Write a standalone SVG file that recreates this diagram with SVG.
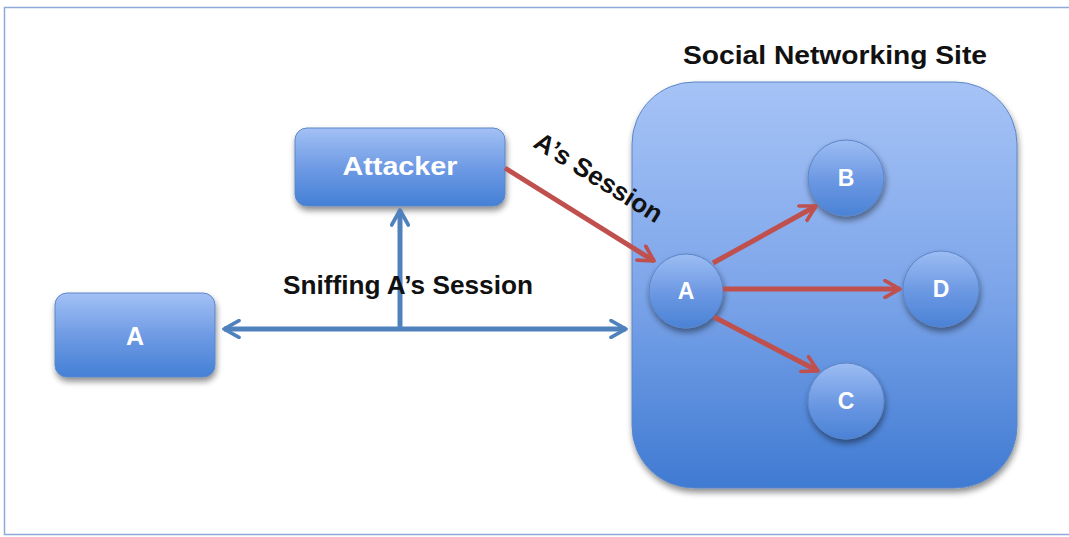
<svg xmlns="http://www.w3.org/2000/svg" width="1069" height="537" viewBox="0 0 1069 537">
<defs>
<linearGradient id="gBig" x1="0" y1="0" x2="0" y2="1">
<stop offset="0" stop-color="#a6c3f6"/>
<stop offset="0.5" stop-color="#7ea6ea"/>
<stop offset="1" stop-color="#3f7ad2"/>
</linearGradient>
<linearGradient id="gBox" x1="0" y1="0" x2="0" y2="1">
<stop offset="0" stop-color="#a3c1f5"/>
<stop offset="0.5" stop-color="#6f9be4"/>
<stop offset="1" stop-color="#4480d6"/>
</linearGradient>
<linearGradient id="gCirc" x1="0" y1="0" x2="0" y2="1">
<stop offset="0" stop-color="#9dbdf3"/>
<stop offset="0.55" stop-color="#6a97e2"/>
<stop offset="1" stop-color="#4a82d6"/>
</linearGradient>
<filter id="sh" x="-20%" y="-20%" width="140%" height="140%">
<feGaussianBlur in="SourceAlpha" stdDeviation="3"/>
<feOffset dx="1" dy="4" result="b"/>
<feComponentTransfer><feFuncA type="linear" slope="0.45"/></feComponentTransfer>
<feMerge><feMergeNode/><feMergeNode in="SourceGraphic"/></feMerge>
</filter>
<marker id="redArr" viewBox="0 0 12 12" refX="10" refY="6" markerWidth="4" markerHeight="4" orient="auto" markerUnits="strokeWidth">
<path d="M1,1 L10,6 L1,11" fill="none" stroke="#c0504d" stroke-width="2.2" stroke-linecap="round" stroke-linejoin="round"/>
</marker>
<marker id="blueArr" viewBox="0 0 12 12" refX="10" refY="6" markerWidth="4" markerHeight="4" orient="auto-start-reverse" markerUnits="strokeWidth">
<path d="M1,1 L10,6 L1,11" fill="none" stroke="#4f81bd" stroke-width="2.2" stroke-linecap="round" stroke-linejoin="round"/>
</marker>
</defs>
<style>
.lbl{font-family:"Liberation Sans",Arial,sans-serif;font-weight:bold;font-size:26px;fill:#111;}
.wt{font-family:"Liberation Sans",Arial,sans-serif;font-weight:bold;fill:#fff;text-anchor:middle;dominant-baseline:central;}
.nodeStroke{stroke:#5b86c8;stroke-width:1;}
.red{stroke:#c0504d;stroke-width:5;fill:none;}
.blue{stroke:#4f81bd;stroke-width:5;fill:none;}
</style>
<rect x="0" y="0" width="1069" height="537" fill="#fff"/>
<path d="M1069,7.5 H4.5 V534.5 H1069" fill="none" stroke="#8eaadb" stroke-width="1.5"/>

<g id="site">
<rect x="632" y="82" width="385" height="406" rx="62" fill="url(#gBig)" class="nodeStroke" filter="url(#sh)"/>
<text class="lbl" x="835" y="64" text-anchor="middle" textLength="304" lengthAdjust="spacingAndGlyphs">Social Networking Site</text>
</g>

<g id="attacker">
<rect x="295" y="128" width="210" height="78" rx="12" fill="url(#gBox)" class="nodeStroke" filter="url(#sh)"/>
<text class="wt" x="400" y="166" font-size="25" textLength="115" lengthAdjust="spacingAndGlyphs">Attacker</text>
</g>

<g id="userA">
<rect x="55" y="293" width="160" height="84" rx="12" fill="url(#gBox)" class="nodeStroke" filter="url(#sh)"/>
<text class="wt" x="135" y="336" font-size="25">A</text>
</g>

<g id="siteA">
<circle cx="686" cy="291" r="37" fill="url(#gCirc)" class="nodeStroke" filter="url(#sh)"/>
<text class="wt" x="686" y="291" font-size="23">A</text>
</g>
<g id="siteB">
<circle cx="846" cy="178" r="38" fill="url(#gCirc)" class="nodeStroke" filter="url(#sh)"/>
<text class="wt" x="846" y="178" font-size="23">B</text>
</g>
<g id="siteD">
<circle cx="941" cy="289" r="38" fill="url(#gCirc)" class="nodeStroke" filter="url(#sh)"/>
<text class="wt" x="941" y="289" font-size="23">D</text>
</g>
<g id="siteC">
<circle cx="846" cy="401" r="38" fill="url(#gCirc)" class="nodeStroke" filter="url(#sh)"/>
<text class="wt" x="846" y="401" font-size="23">C</text>
</g>

<g id="connectors">
<line class="blue" x1="224" y1="329" x2="626" y2="329" marker-start="url(#blueArr)" marker-end="url(#blueArr)"/>
<line class="blue" x1="400" y1="329" x2="400" y2="210" marker-end="url(#blueArr)"/>
<line class="red" x1="505" y1="168" x2="654" y2="261" marker-end="url(#redArr)"/>
<line class="red" x1="713" y1="263" x2="816" y2="206" marker-end="url(#redArr)"/>
<line class="red" x1="723" y1="289" x2="900" y2="289" marker-end="url(#redArr)"/>
<line class="red" x1="714" y1="317" x2="818" y2="371" marker-end="url(#redArr)"/>
<text class="lbl" x="408" y="294" text-anchor="middle" textLength="250" lengthAdjust="spacingAndGlyphs">Sniffing A’s Session</text>
<text class="lbl" x="0" y="0" text-anchor="middle" textLength="146" lengthAdjust="spacingAndGlyphs" transform="translate(594,185) rotate(32)">A’s Session</text>
</g>
</svg>
